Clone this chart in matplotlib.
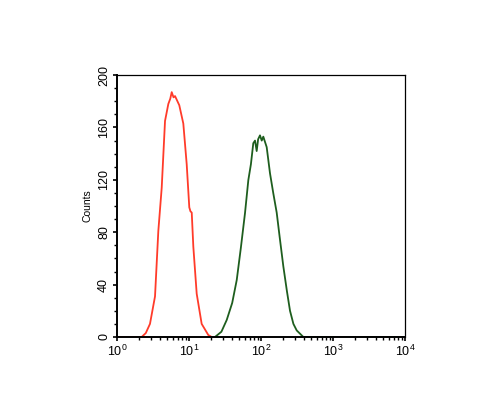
import matplotlib
matplotlib.use("Agg")
import matplotlib.pyplot as plt
from matplotlib.ticker import LogLocator, MultipleLocator, FixedLocator

plt.rcParams["font.family"] = ["Liberation Sans", "DejaVu Sans"]
plt.rcParams["mathtext.fontset"] = "custom"
plt.rcParams["mathtext.rm"] = "Liberation Sans"
plt.rcParams["mathtext.it"] = "Liberation Sans:italic"
plt.rcParams["mathtext.bf"] = "Liberation Sans:bold"

# Red (control) histogram: log10 intensity, counts
red_log = [0.0, 0.30, 0.343, 0.40, 0.458, 0.528, 0.574, 0.621, 0.667, 0.713, 0.740, 0.760,
           0.785, 0.806, 0.865, 0.921, 0.968, 1.004, 1.020, 1.038, 1.060, 1.107, 1.176, 1.268, 1.315]
red_counts = [0, 0, 0, 3, 10, 31, 81, 114, 165, 178, 182, 187,
              183, 184, 177, 163, 132, 99, 96, 95, 69, 33, 10, 1.5, 0]

# Green (sample) histogram
green_log = [1.361, 1.45, 1.524, 1.60, 1.663, 1.72, 1.778, 1.824, 1.860, 1.893, 1.917, 1.940,
             1.960, 1.986, 2.010, 2.032, 2.079, 2.125, 2.170, 2.218, 2.260, 2.310, 2.360, 2.403,
             2.450, 2.496, 2.588, 4.0]
green_counts = [0, 4, 13, 26, 43.5, 68, 94.7, 119.8, 132, 148, 150, 142,
                151, 154, 150, 153, 145, 125, 110, 95, 76, 54, 35, 20,
                10, 5, 0, 0]

y_ticks = [0, 40, 80, 120, 160, 200]

fig = plt.figure(figsize=(5, 4.15), dpi=100)
ax = fig.add_axes([0.234, 0.188, 0.576, 0.631])

ax.plot([10 ** v for v in red_log], red_counts, color="#ff3b2a", lw=1.3)
ax.plot([10 ** v for v in green_log], green_counts, color="#1e5e1e", lw=1.3)

ax.set_xscale("log")
ax.set_xlim(1, 1e4)
ax.set_ylim(0, 200)

ax.xaxis.set_major_locator(LogLocator(base=10, numticks=10))
ax.xaxis.set_minor_locator(LogLocator(base=10, subs=range(2, 10), numticks=10))
ax.yaxis.set_major_locator(FixedLocator(y_ticks))
ax.yaxis.set_minor_locator(MultipleLocator(10))

for side in ["top", "right"]:
    ax.spines[side].set_linewidth(0.9)
for side in ["left", "bottom"]:
    ax.spines[side].set_linewidth(1.4)

ax.tick_params(axis="both", which="major", length=3, width=1.2, labelsize=9, direction="out", pad=2)
ax.tick_params(axis="both", which="minor", length=2, width=1.0, direction="out")
ax.tick_params(axis="y", labelrotation=90)
for lbl in ax.get_yticklabels():
    lbl.set_va("center")

ax.set_ylabel("Counts", fontsize=7.5, labelpad=4)

fig.savefig("out.png", dpi=100)
